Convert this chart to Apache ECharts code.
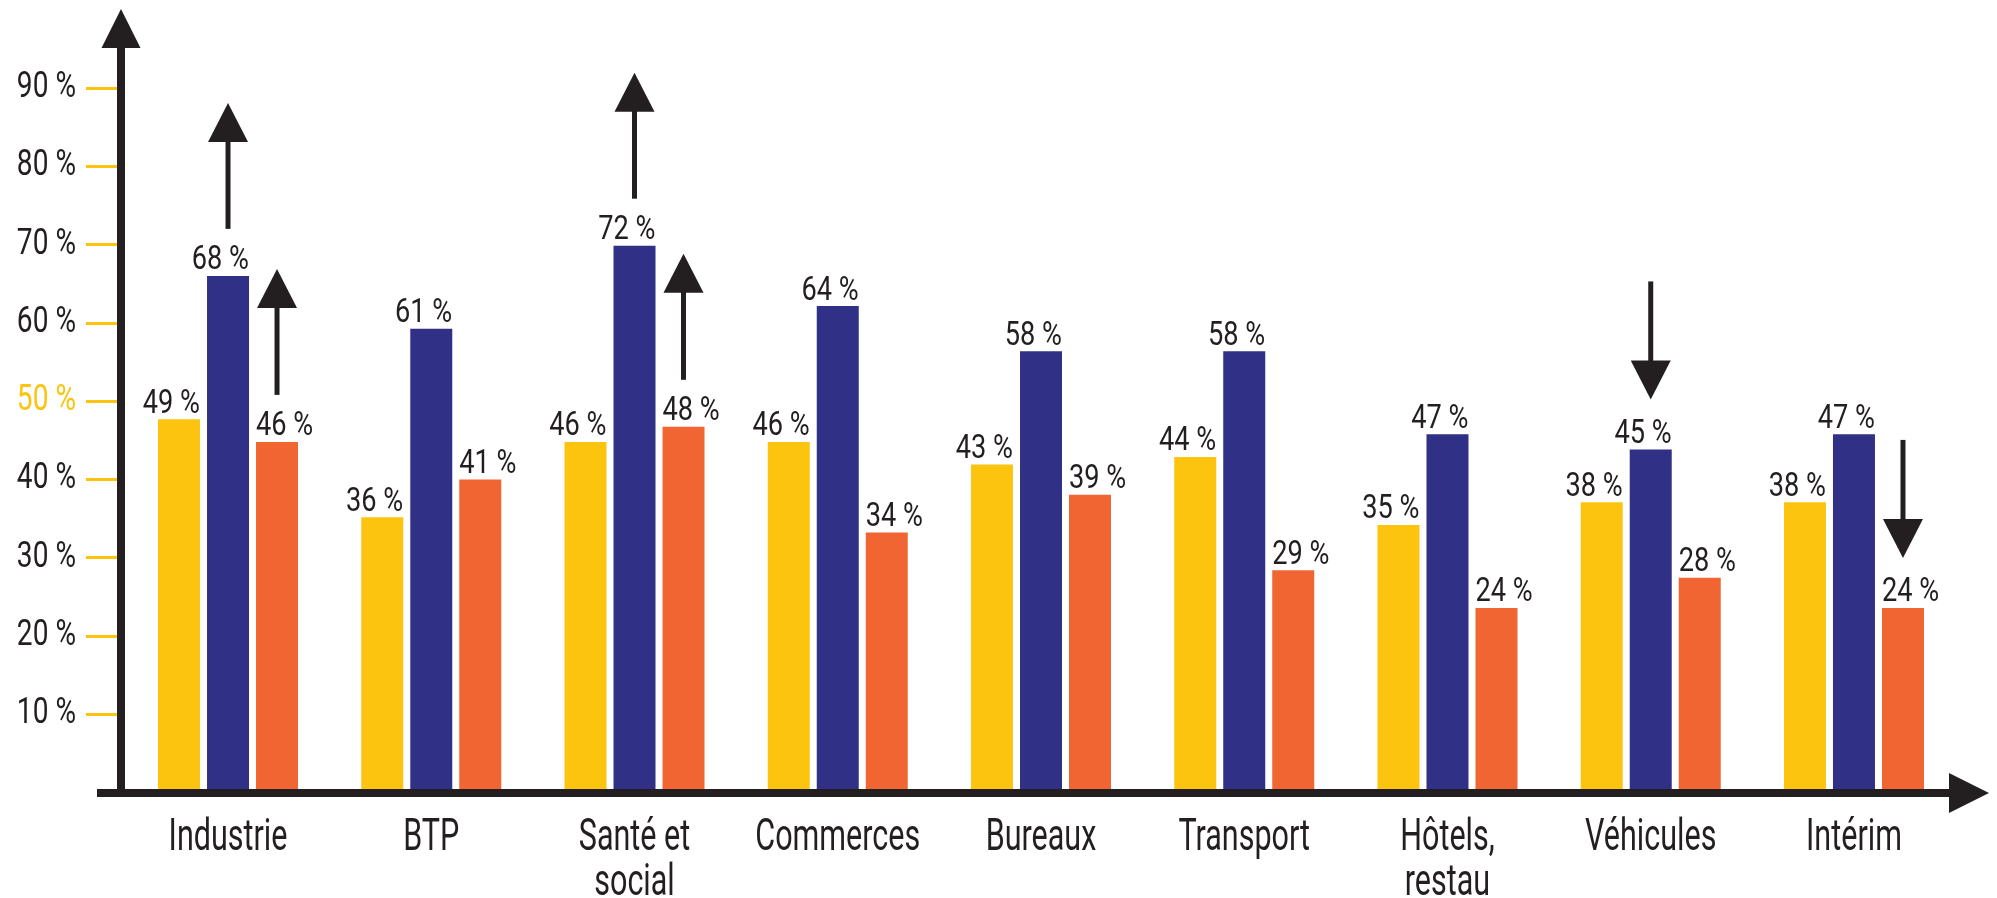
<!DOCTYPE html>
<html><head><meta charset="utf-8">
<script src="https://cdn.jsdelivr.net/npm/echarts@6/dist/echarts.min.js"></script>
<style>html,body{margin:0;padding:0;background:#fff}#c{width:1997px;height:898px}</style>
</head><body><div id="c"></div>
<script>
// ---- data ----
const categories = ['Industrie', 'BTP', 'Santé et\nsocial', 'Commerces', 'Bureaux', 'Transport', 'Hôtels,\nrestau', 'Véhicules', 'Intérim'];
const yellowValues = [49, 36, 46, 46, 43, 44, 35, 38, 38];
const navyValues   = [68, 61, 72, 64, 58, 58, 47, 45, 47];
const orangeValues = [46, 41, 48, 34, 39, 29, 24, 28, 24];
const tickValues = [10, 20, 30, 40, 50, 60, 70, 80, 90];
const highlightedTick = 50;
// trend arrows: category index, series index (0 yellow, 1 navy, 2 orange), direction (1 up, -1 down)
const arrowCategories = [0, 0, 2, 2, 7, 8];
const arrowSeries     = [1, 2, 1, 2, 1, 2];
const arrowDirections = [1, 1, 1, 1, -1, -1];

// ---- style / layout ----
const YEL = '#FCC40F', NAVY = '#2F3086', ORANGE = '#F16533', DARK = '#231F20';
const FONT = "Roboto, 'Liberation Sans', sans-serif";
const BAR_W = 42, BAR_GAP = 7;
const AX_X = 121, AX_Y = 793, AX_W = 8;
const seriesValues = [yellowValues, navyValues, orangeValues];
const colors = [YEL, NAVY, ORANGE];

const chart = echarts.init(document.getElementById('c'), null, {renderer: 'canvas'});

function barSeries(i) {
  return {
    type: 'bar', name: 's' + i, xAxisIndex: 0, yAxisIndex: 0,
    data: seriesValues[i], barWidth: BAR_W, barGap: (BAR_GAP / BAR_W * 100).toFixed(2) + '%',
    itemStyle: {color: colors[i]}, z: 3, silent: true
  };
}

function condensedText(x, y, text, size, scaleX, align, vAlign, color, lineHeight) {
  return {
    type: 'text', x: x, y: y, scaleX: scaleX,
    style: {text: text, fontFamily: FONT, fontSize: size, lineHeight: lineHeight || size,
            fill: color, align: align, verticalAlign: vAlign}
  };
}

const valueLabelData = [];
seriesValues.forEach((vals, s) => vals.forEach((v, c) => valueLabelData.push([c, s, v])));

const option = {
  backgroundColor: '#fff',
  animation: false,
  grid: [
    {left: 126.4, right: 41.4, top: 48, bottom: 109},
    {left: AX_X, right: 41.4, top: 88, bottom: 184}
  ],
  xAxis: [
    {type: 'category', gridIndex: 0, data: categories,
     axisLine: {show: false}, axisTick: {show: false}, axisLabel: {show: false}},
    {type: 'value', gridIndex: 1, min: 0, max: 1, show: false}
  ],
  yAxis: [
    {type: 'value', gridIndex: 0, min: 0, max: 98.2, show: false},
    {type: 'value', gridIndex: 1, min: tickValues[0], max: tickValues[tickValues.length - 1], interval: 10,
     axisLine: {show: false}, splitLine: {show: false}, axisLabel: {show: false},
     axisTick: {show: true, length: 35, lineStyle: {color: YEL, width: 3}}}
  ],
  series: [
    barSeries(0), barSeries(1), barSeries(2),
    // value labels above bars
    {
      type: 'custom', xAxisIndex: 0, yAxisIndex: 0, z: 5, silent: true, clip: false,
      encode: {x: 0, y: 2}, data: valueLabelData,
      renderItem: function (params, api) {
        const c = api.value(0), s = api.value(1), v = api.value(2);
        const p = api.coord([c, v]);
        const center = p[0] + (s - 1) * (BAR_W + BAR_GAP);
        const left = s === 2;
        const x = left ? center - BAR_W / 2 : center + BAR_W / 2;
        return condensedText(x, p[1] + 2, v + ' %', 34, 0.8, left ? 'left' : 'right', 'bottom', DARK);
      }
    },
    // category labels
    {
      type: 'custom', xAxisIndex: 0, yAxisIndex: 0, z: 5, silent: true, clip: false,
      encode: {x: 0, y: 1}, data: categories.map((c, i) => [i, 0]),
      renderItem: function (params, api) {
        const i = api.value(0);
        const p = api.coord([i, 0]);
        return condensedText(p[0], p[1] + 28, categories[i], 43.6, 0.7, 'center', 'top', DARK, 45);
      }
    },
    // y tick labels
    {
      type: 'custom', xAxisIndex: 1, yAxisIndex: 1, z: 5, silent: true, clip: false,
      encode: {x: 0, y: 1}, data: tickValues.map(v => [0, v]),
      renderItem: function (params, api) {
        const v = api.value(1);
        const p = api.coord([0, v]);
        return condensedText(p[0] - 45, p[1], v + ' %', 36.5, 0.77, 'right', 'middle',
                             v === highlightedTick ? YEL : DARK);
      }
    },
    // trend arrows
    {
      type: 'custom', xAxisIndex: 0, yAxisIndex: 0, z: 6, silent: true, clip: false,
      encode: {x: 0, y: 2},
      data: arrowCategories.map((c, k) => [c, arrowSeries[k], seriesValues[arrowSeries[k]][c], arrowDirections[k]]),
      renderItem: function (params, api) {
        const cat = api.value(0), s = api.value(1), v = api.value(2), dir = api.value(3);
        const p = api.coord([cat, v]);
        const x = p[0] + (s - 1) * (BAR_W + BAR_GAP);
        const HW = 20, HH = 39, SW = 5;
        let shaft, head;
        if (dir > 0) {
          const bottom = p[1] - 47, SL = 87;
          const base = bottom - SL;
          shaft = {x: x - SW / 2, y: base - 1, width: SW, height: SL + 1};
          head = [[x - HW, base], [x + HW, base], [x, base - HH]];
        } else {
          const apex = p[1] - 50, SL = 79;
          const base = apex - HH;
          shaft = {x: x - SW / 2, y: base - SL, width: SW, height: SL + 1};
          head = [[x - HW, base], [x + HW, base], [x, apex]];
        }
        return {type: 'group', children: [
          {type: 'rect', shape: shaft, style: {fill: DARK}},
          {type: 'polygon', shape: {points: head}, style: {fill: DARK}}
        ]};
      }
    }
  ],
  graphic: [
    {type: 'rect', z: 10, shape: {x: AX_X - AX_W / 2, y: 40, width: AX_W, height: AX_Y + AX_W / 2 - 40}, style: {fill: DARK}},
    {type: 'polygon', z: 10, shape: {points: [[AX_X - 19.5, 48], [AX_X + 19.5, 48], [AX_X, 9]]}, style: {fill: DARK}},
    {type: 'rect', z: 10, shape: {x: 97, y: AX_Y - AX_W / 2, width: 1949 - 97 + 1, height: AX_W}, style: {fill: DARK}},
    {type: 'polygon', z: 10, shape: {points: [[1949, AX_Y - 20], [1949, AX_Y + 20], [1989, AX_Y]]}, style: {fill: DARK}}
  ]
};
chart.setOption(option);
</script>
</body></html>
